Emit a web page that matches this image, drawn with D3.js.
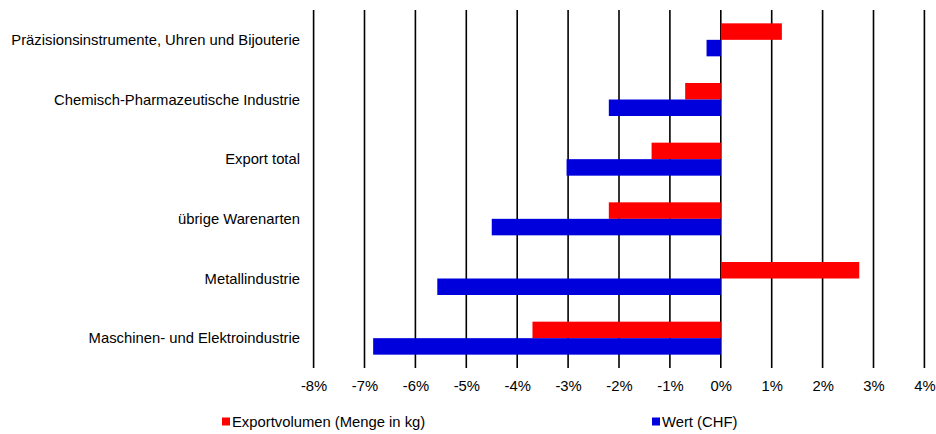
<!DOCTYPE html>
<html>
<head>
<meta charset="utf-8">
<script src="https://cdn.jsdelivr.net/npm/d3@7"></script>
<style>
  html, body { margin: 0; padding: 0; background: #fff; }
  svg { display: block; font-family: "Liberation Sans", Arial, Helvetica, sans-serif; }
</style>
</head>
<body>
<svg id="chart" width="936" height="434"></svg>
<script>
const categories = [
  "Präzisionsinstrumente, Uhren und Bijouterie",
  "Chemisch-Pharmazeutische Industrie",
  "Export total",
  "übrige Warenarten",
  "Metallindustrie",
  "Maschinen- und Elektroindustrie"
];
const exportvolumen = [1.2, -0.7, -1.36, -2.2, 2.72, -3.7];
const wert = [-0.28, -2.2, -3.03, -4.5, -5.57, -6.83];
const tickValues = [-8, -7, -6, -5, -4, -3, -2, -1, 0, 1, 2, 3, 4];
const seriesNames = ["Exportvolumen (Menge in kg)", "Wert (CHF)"];
const seriesColors = ["#ff0000", "#0000dd"];

(function () {
  const svg = d3.select("#chart");
  const pLeft = 313.6, pRight = 924.4, pTop = 10, pBottom = 368;
  const fs = 14.8;

  const x = d3.scaleLinear().domain([-8, 4]).range([pLeft, pRight]);
  const y = d3.scaleBand().domain(categories).range([pTop, pBottom]).paddingInner(0).paddingOuter(0);
  const barH = 16.5;

  // gridlines
  svg.append("g").selectAll("line").data(tickValues).join("line")
    .attr("x1", d => x(d)).attr("x2", d => x(d))
    .attr("y1", pTop).attr("y2", pBottom)
    .attr("stroke", "#000").attr("stroke-width", 1.6);

  // x axis labels
  const xAxis = d3.axisBottom(x).tickValues(tickValues).tickSize(0).tickPadding(0)
    .tickFormat(d => d + "%");
  const gx = svg.append("g").attr("transform", `translate(0,${pBottom})`).call(xAxis);
  gx.select(".domain").remove();
  gx.selectAll("text").attr("font-size", fs).attr("fill", "#000")
    .attr("dy", null).attr("y", 23).attr("font-family", "Liberation Sans, Arial, sans-serif");

  // category labels
  const yAxis = d3.axisLeft(y).tickSize(0).tickPadding(0);
  const gy = svg.append("g").attr("transform", `translate(300,0)`).call(yAxis);
  gy.select(".domain").remove();
  gy.selectAll("text").attr("font-size", fs).attr("fill", "#000")
    .attr("x", 0).attr("dy", "0.35em").attr("font-family", "Liberation Sans, Arial, sans-serif");

  const center = d => y(d) + y.bandwidth() / 2;

  // bars
  const data = categories.map((c, i) => ({ c, v: exportvolumen[i], w: wert[i] }));
  svg.append("g").selectAll("rect").data(data).join("rect")
    .attr("x", d => x(Math.min(0, d.v)))
    .attr("width", d => Math.abs(x(d.v) - x(0)))
    .attr("y", d => center(d.c) - barH)
    .attr("height", barH)
    .attr("fill", seriesColors[0]);
  svg.append("g").selectAll("rect").data(data).join("rect")
    .attr("x", d => x(Math.min(0, d.w)))
    .attr("width", d => Math.abs(x(d.w) - x(0)))
    .attr("y", d => center(d.c))
    .attr("height", barH)
    .attr("fill", seriesColors[1]);

  // legend
  const legendX = [222, 652];
  const lg = svg.append("g");
  seriesNames.forEach((n, i) => {
    lg.append("rect").attr("x", legendX[i]).attr("y", 417.5).attr("width", 8).attr("height", 8)
      .attr("fill", seriesColors[i]);
    lg.append("text").attr("x", legendX[i] + 10).attr("y", 426.5).attr("font-size", fs)
      .attr("fill", "#000").text(n);
  });
})();
</script>
</body>
</html>
